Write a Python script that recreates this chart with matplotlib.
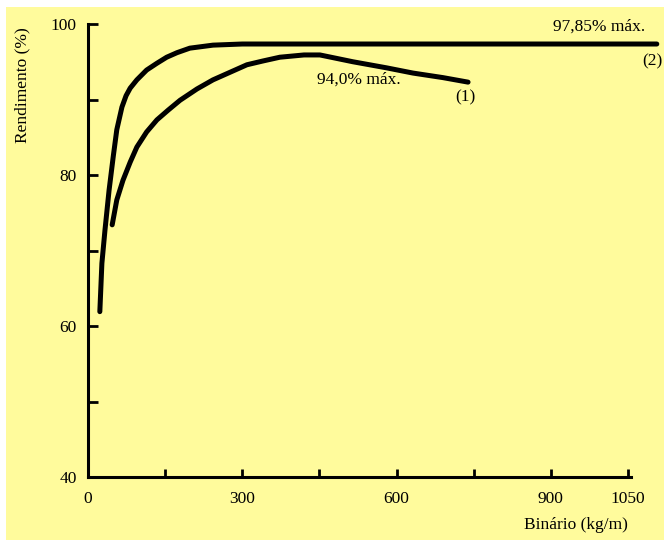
import numpy as np
import matplotlib.pyplot as plt
from matplotlib.patches import Rectangle

# curve (1): values
torque_1 = [47, 56, 68, 82, 95, 114, 134, 156, 179, 212, 243, 276, 309, 340, 373,
            420, 451, 515, 580, 632, 690, 739]
eff_1 = [73.4, 76.7, 79.3, 81.7, 83.7, 85.7, 87.3, 88.6, 89.9, 91.4, 92.6, 93.6, 94.6,
         95.1, 95.6, 95.9, 95.9, 95.0, 94.2, 93.5, 92.9, 92.3]

# curve (2)
torque_2 = [23, 27, 33, 41, 49, 56, 66, 74, 82, 95, 114, 134, 153, 173, 198, 243,
            300, 600, 900, 1106]
eff_2 = [61.9, 68.3, 72.7, 78.0, 82.4, 86.0, 89.0, 90.5, 91.5, 92.6, 93.9, 94.8, 95.6,
         96.2, 96.8, 97.2, 97.35, 97.35, 97.35, 97.35]

x_ticks = [0, 150, 300, 450, 600, 750, 900, 1050]
x_labels = ['0', '', '300', '', '600', '', '900', '1050']
y_ticks = [40, 50, 60, 70, 80, 90, 100]
y_labels = ['40', '', '60', '', '80', '', '100']

yellow = '#FFFB9C'
plt.rcParams['font.family'] = ['Liberation Serif', 'DejaVu Serif']
fs = 12.5

fig = plt.figure(figsize=(6.64, 5.40), dpi=100, facecolor='white')
fig.patches.append(Rectangle((6 / 664, 0), 1, 533 / 540, transform=fig.transFigure,
                             facecolor=yellow, edgecolor='none', zorder=-10))
ax = fig.add_axes([88 / 664, 1 - 477 / 540, 540 / 664, 453 / 540])
ax.set_facecolor('none')

for tx, ey in [(torque_1, eff_1), (torque_2, eff_2)]:
    ax.plot(tx, ey, color='black', lw=3.6, solid_capstyle='round',
            solid_joinstyle='round', clip_on=False)

ax.set_xlim(0, 1050)
ax.set_ylim(40, 100)
for s in ['top', 'right']:
    ax.spines[s].set_visible(False)
for s in ['left', 'bottom']:
    ax.spines[s].set_linewidth(2.2)
ax.spines['bottom'].set_bounds(0, 1055)

ax.set_xticks(x_ticks)
ax.set_xticklabels(x_labels)
ax.set_yticks(y_ticks)
ax.set_yticklabels(y_labels)
ax.tick_params(axis='x', direction='in', length=6, width=2, pad=10, labelsize=fs)
ax.tick_params(axis='y', direction='in', length=7, width=2, pad=8, labelsize=fs)

ax.text(905, 99.6, '97,85% máx.', fontsize=fs, ha='left', va='center')
ax.text(1077, 95.0, '(2)', fontsize=fs, ha='left', va='center', clip_on=False)
ax.text(445, 92.6, '94,0% máx.', fontsize=fs, ha='left', va='center')
ax.text(733, 90.3, '(1)', fontsize=fs, ha='center', va='center')

fig.text(22 / 664, 1 - 85 / 540, 'Rendimento (%)', rotation=90, fontsize=fs,
         ha='center', va='center')
fig.text(628 / 664, 1 - 525 / 540, 'Binário (kg/m)', fontsize=fs,
         ha='right', va='center')

fig.savefig('out.png', dpi=100, facecolor=fig.get_facecolor())
